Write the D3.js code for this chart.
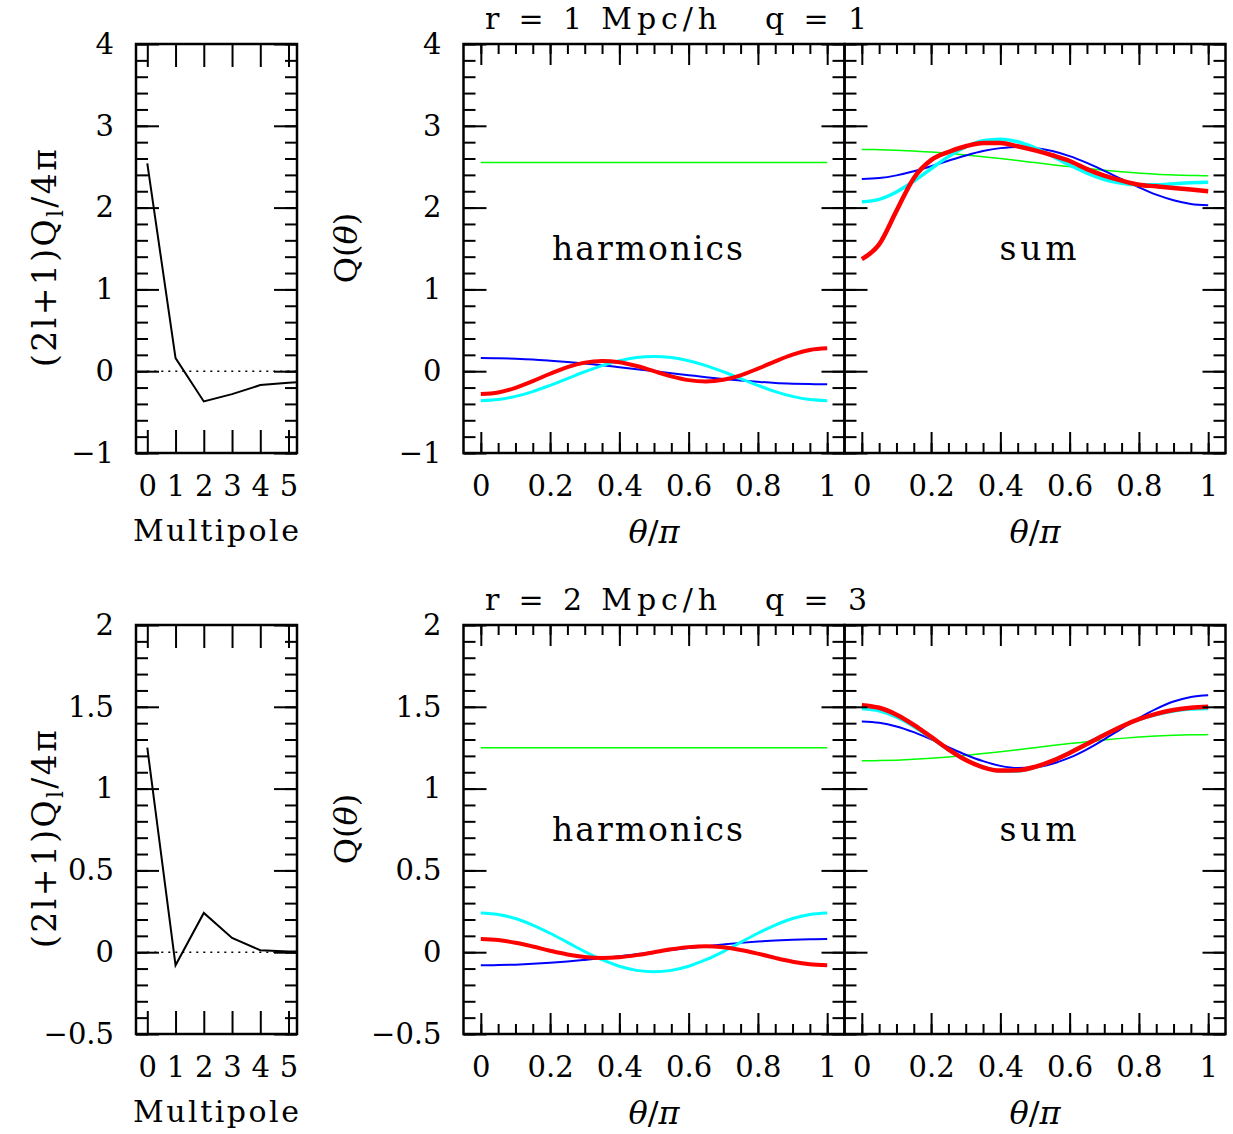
<!DOCTYPE html>
<html>
<head>
<meta charset="utf-8">
<script src="https://cdn.jsdelivr.net/npm/d3@7"></script>
<style>
  body { margin: 0; background: #fff; }
  text { font-family: "DejaVu Serif", serif; fill: #000; }
</style>
</head>
<body>
<svg id="chart" width="1233" height="1134"></svg>
<script>
// sample grid in theta/pi
var thetaGrid = [0, 0.05, 0.1, 0.15, 0.2, 0.25, 0.3, 0.35, 0.4, 0.45, 0.5,
                 0.55, 0.6, 0.65, 0.7, 0.75, 0.8, 0.85, 0.9, 0.95, 1];
var multipoles = [0, 1, 2, 3, 4, 5, 6];

// ---- r = 1 Mpc/h, q = 1
var coefTop = [2.54, 0.16, -0.37, -0.28, -0.17, -0.14, -0.12];
var harmTop0 = [2.55, 2.55, 2.55, 2.55, 2.55, 2.55, 2.55, 2.55, 2.55, 2.55, 2.55,
                2.55, 2.55, 2.55, 2.55, 2.55, 2.55, 2.55, 2.55, 2.55, 2.55];
var harmTop1 = [0.16, 0.158, 0.152, 0.143, 0.129, 0.113, 0.094, 0.073, 0.049, 0.025, 0,
                -0.025, -0.049, -0.073, -0.094, -0.113, -0.129, -0.143, -0.152, -0.158, -0.16];
var harmTop2 = [-0.36, -0.347, -0.308, -0.249, -0.173, -0.09, -0.007, 0.069, 0.128, 0.167, 0.18,
                0.167, 0.128, 0.069, -0.007, -0.09, -0.173, -0.249, -0.308, -0.347, -0.36];
var harmTop3 = [-0.28, -0.26, -0.203, -0.121, -0.031, 0.05, 0.105, 0.125, 0.109, 0.063, 0,
                -0.063, -0.109, -0.125, -0.105, -0.05, 0.031, 0.121, 0.203, 0.26, 0.28];
var sumTop1 = [2.71, 2.708, 2.702, 2.693, 2.679, 2.663, 2.644, 2.623, 2.599, 2.575, 2.55,
               2.525, 2.501, 2.477, 2.456, 2.437, 2.421, 2.407, 2.398, 2.392, 2.39];
var sumTop2 = [2.35, 2.361, 2.394, 2.444, 2.506, 2.573, 2.637, 2.692, 2.727, 2.742, 2.73,
               2.692, 2.629, 2.546, 2.449, 2.347, 2.248, 2.158, 2.09, 2.045, 2.03];
var sumTop3 = [2.07, 2.101, 2.191, 2.323, 2.475, 2.623, 2.742, 2.817, 2.836, 2.805, 2.73,
               2.629, 2.52, 2.421, 2.344, 2.298, 2.279, 2.279, 2.293, 2.305, 2.31];
var sumTopAll = [1.37, 1.55, 1.96, 2.36, 2.58, 2.68, 2.75, 2.79, 2.79, 2.75, 2.70,
                 2.64, 2.57, 2.47, 2.39, 2.33, 2.28, 2.26, 2.24, 2.22, 2.20];

// ---- r = 2 Mpc/h, q = 3
var coefBot = [1.25, -0.08, 0.24, 0.087, 0.012, 0.005, 0.004];
var harmBot0 = [1.25, 1.25, 1.25, 1.25, 1.25, 1.25, 1.25, 1.25, 1.25, 1.25, 1.25,
                1.25, 1.25, 1.25, 1.25, 1.25, 1.25, 1.25, 1.25, 1.25, 1.25];
var harmBot1 = [-0.08, -0.079, -0.076, -0.071, -0.065, -0.057, -0.047, -0.036, -0.025, -0.013, 0,
                0.013, 0.025, 0.036, 0.047, 0.057, 0.065, 0.071, 0.076, 0.079, 0.08];
var harmBot2 = [0.24, 0.231, 0.206, 0.166, 0.116, 0.06, 0.004, -0.046, -0.086, -0.111, -0.12,
                -0.111, -0.086, -0.046, 0.004, 0.06, 0.116, 0.166, 0.206, 0.231, 0.24];
var harmBot3 = [0.08, 0.074, 0.058, 0.035, 0.009, -0.014, -0.03, -0.036, -0.031, -0.018, 0,
                0.018, 0.031, 0.036, 0.03, 0.014, -0.009, -0.035, -0.058, -0.074, -0.08];
var sumBot1 = [1.17, 1.171, 1.174, 1.179, 1.185, 1.193, 1.203, 1.214, 1.225, 1.237, 1.25,
               1.263, 1.275, 1.286, 1.297, 1.307, 1.315, 1.321, 1.326, 1.329, 1.33];
var sumBot2 = [1.41, 1.402, 1.38, 1.345, 1.301, 1.253, 1.207, 1.168, 1.139, 1.126, 1.13,
               1.152, 1.189, 1.24, 1.301, 1.367, 1.431, 1.487, 1.532, 1.56, 1.57];
var sumBot3 = [1.49, 1.476, 1.438, 1.38, 1.31, 1.239, 1.177, 1.132, 1.108, 1.108, 1.13,
               1.17, 1.22, 1.276, 1.331, 1.381, 1.422, 1.452, 1.474, 1.486, 1.49];
var sumBotAll = [1.51, 1.494, 1.452, 1.39, 1.316, 1.24, 1.175, 1.13, 1.11, 1.112, 1.133,
                 1.17, 1.218, 1.272, 1.328, 1.38, 1.424, 1.457, 1.48, 1.494, 1.50];

var rowTitles = ["r = 1 Mpc/h   q = 1", "r = 2 Mpc/h   q = 3"];
var yTicksTop = [-1, 0, 1, 2, 3, 4];
var yTicksBot = [-0.5, 0, 0.5, 1, 1.5, 2];
var thetaTicks = [0, 0.2, 0.4, 0.6, 0.8, 1];

var colors = ["#00ff00", "#0000ff", "#00ffff", "#ff0000"];
var widthsHarm = [1.5, 2, 3, 4];
var widthsSum = [1.5, 2, 3.5, 4.5];

var svg = d3.select("#chart");
var fmt = function(v) { return String(+v.toFixed(2)).replace("-", "\u2212"); };

var rows = [
  { top: 44, bottom: 453, ydom: [-1, 4], yMajor: yTicksTop, yStep: 0.2, coef: coefTop,
    harm: [harmTop0, harmTop1, harmTop2, harmTop3],
    sum: [sumTop1, sumTop2, sumTop3, sumTopAll], title: rowTitles[0] },
  { top: 625, bottom: 1034, ydom: [-0.5, 2], yMajor: yTicksBot, yStep: 0.1, coef: coefBot,
    harm: [harmBot0, harmBot1, harmBot2, harmBot3],
    sum: [sumBot1, sumBot2, sumBot3, sumBotAll], title: rowTitles[1] }
];

var clipId = 0;

// box plus inward ticks on all four sides
function frame(g, x, y, o) {
  var x0 = x.range()[0], x1 = x.range()[1], y0 = y.range()[1], y1 = y.range()[0];
  function ax(axis, tx, ty, ticks, len, labels) {
    var a = g.append("g").attr("transform", "translate(" + tx + "," + ty + ")")
      .call(axis.tickValues(ticks).tickSize(-len).tickPadding(labels ? o.pad || 22 : 0)
        .tickFormat(labels ? fmt : ""));
    a.select(".domain").remove();
    a.selectAll("line").attr("stroke", "#000").attr("stroke-width", 2);
    a.attr("font-family", null).attr("font-size", 29);
    return a;
  }
  ax(d3.axisBottom(x), 0, y1, o.xMajor, o.xMajLen, o.xLabels);
  ax(d3.axisTop(x), 0, y0, o.xMajor, o.xMajLen, false);
  if (o.xMinor) {
    ax(d3.axisBottom(x), 0, y1, o.xMinor, 10, false);
    ax(d3.axisTop(x), 0, y0, o.xMinor, 10, false);
  }
  ax(d3.axisLeft(y), x0, 0, o.yMajor, 23, o.yLabels);
  ax(d3.axisRight(y), x1, 0, o.yMajor, 23, false);
  ax(d3.axisLeft(y), x0, 0, o.yMinor, 12, false);
  ax(d3.axisRight(y), x1, 0, o.yMinor, 12, false);
  g.append("rect").attr("x", x0).attr("y", y0).attr("width", x1 - x0).attr("height", y1 - y0)
    .attr("fill", "none").attr("stroke", "#000").attr("stroke-width", 2.5);
}

function clipped(g, x, y) {
  clipId++;
  svg.append("clipPath").attr("id", "clip" + clipId).append("rect")
    .attr("x", x.range()[0]).attr("y", y.range()[1])
    .attr("width", x.range()[1] - x.range()[0]).attr("height", y.range()[0] - y.range()[1]);
  return g.append("g").attr("clip-path", "url(#clip" + clipId + ")");
}

rows.forEach(function(row) {
  var y = d3.scaleLinear().domain(row.ydom).range([row.bottom, row.top]);
  var yMinor = d3.range(row.ydom[0], row.ydom[1] + 1e-6, row.yStep);

  // ---- multipole panel
  var xl = d3.scaleLinear().domain([-0.4, 5.3]).range([136, 297]);
  var gl = svg.append("g");
  var cl = clipped(gl, xl, y);
  cl.append("line").attr("x1", xl(0)).attr("x2", xl(5.3)).attr("y1", y(0)).attr("y2", y(0))
    .attr("stroke", "#000").attr("stroke-width", 1.5).attr("stroke-dasharray", "2,5");
  cl.append("path").datum(multipoles)
    .attr("d", d3.line().x(function(d) { return xl(d); }).y(function(d, i) { return y(row.coef[i]); }))
    .attr("fill", "none").attr("stroke", "#000").attr("stroke-width", 2);
  frame(gl, xl, y, { xMajor: [0, 1, 2, 3, 4, 5], xMajLen: 23, xLabels: true,
    yMajor: row.yMajor, yMinor: yMinor, yLabels: true, pad: 22 });
  gl.append("text").attr("x", 216).attr("y", row.bottom + 88).attr("text-anchor", "middle")
    .attr("font-size", 30).attr("textLength", 166).attr("lengthAdjust", "spacing").text("Multipole");
  var yl = gl.append("text").attr("transform", "translate(56," + (row.top + 214) + ") rotate(-90)")
    .attr("text-anchor", "middle").attr("font-size", 33).attr("textLength", 218).attr("lengthAdjust", "spacing");
  yl.append("tspan").text("(2l+1)Q");
  yl.append("tspan").attr("font-size", 22).attr("dy", 7).text("l");
  yl.append("tspan").attr("dy", -7).text("/4\u03c0");

  // ---- harmonics and sum panels
  var panels = [
    { x0: 463.5, x1: 844.5, series: row.harm, widths: widthsHarm, label: "harmonics", lx: 647.5, lw: 191, yLabels: true },
    { x0: 844.5, x1: 1225.5, series: row.sum, widths: widthsSum, label: "sum", lx: 1038, lw: 77, yLabels: false }
  ];
  panels.forEach(function(p) {
    var x = d3.scaleLinear().domain([-0.05, 1.05]).range([p.x0, p.x1]);
    var g = svg.append("g");
    var c = clipped(g, x, y);
    var line = d3.line().curve(d3.curveMonotoneX)
      .x(function(d) { return x(d); });
    p.series.forEach(function(vals, k) {
      c.append("path").datum(thetaGrid)
        .attr("d", line.y(function(d, i) { return y(vals[i]); }))
        .attr("fill", "none").attr("stroke", colors[k]).attr("stroke-width", p.widths[k])
        .attr("stroke-linejoin", "round");
    });
    frame(g, x, y, { xMajor: thetaTicks, xMinor: d3.range(0, 1.0001, 0.05), xMajLen: 21, xLabels: true,
      yMajor: row.yMajor, yMinor: yMinor, yLabels: p.yLabels, pad: 22 });
    g.append("text").attr("x", p.lx).attr("y", row.top + 216).attr("text-anchor", "middle")
      .attr("font-size", 33).attr("textLength", p.lw).attr("lengthAdjust", "spacing").text(p.label);
    var xt = g.append("text").attr("x", (x(0) + x(1)) / 2).attr("y", row.bottom + 90)
      .attr("text-anchor", "middle").attr("font-size", 32);
    xt.append("tspan").attr("font-style", "italic").text("\u03b8");
    xt.append("tspan").text("/");
    xt.append("tspan").attr("font-style", "italic").text("\u03c0");
  });

  var qt = svg.append("text").attr("transform", "translate(357," + (row.top + 204) + ") rotate(-90)")
    .attr("text-anchor", "middle").attr("font-size", 32);
  qt.append("tspan").text("Q(");
  qt.append("tspan").attr("font-style", "italic").text("\u03b8");
  qt.append("tspan").text(")");

  svg.append("text").attr("x", 676).attr("y", row.top - 15).attr("text-anchor", "middle")
    .attr("font-size", 30).attr("textLength", 382).attr("lengthAdjust", "spacing")
    .style("white-space", "pre").text(row.title);
});
</script>
</body>
</html>
